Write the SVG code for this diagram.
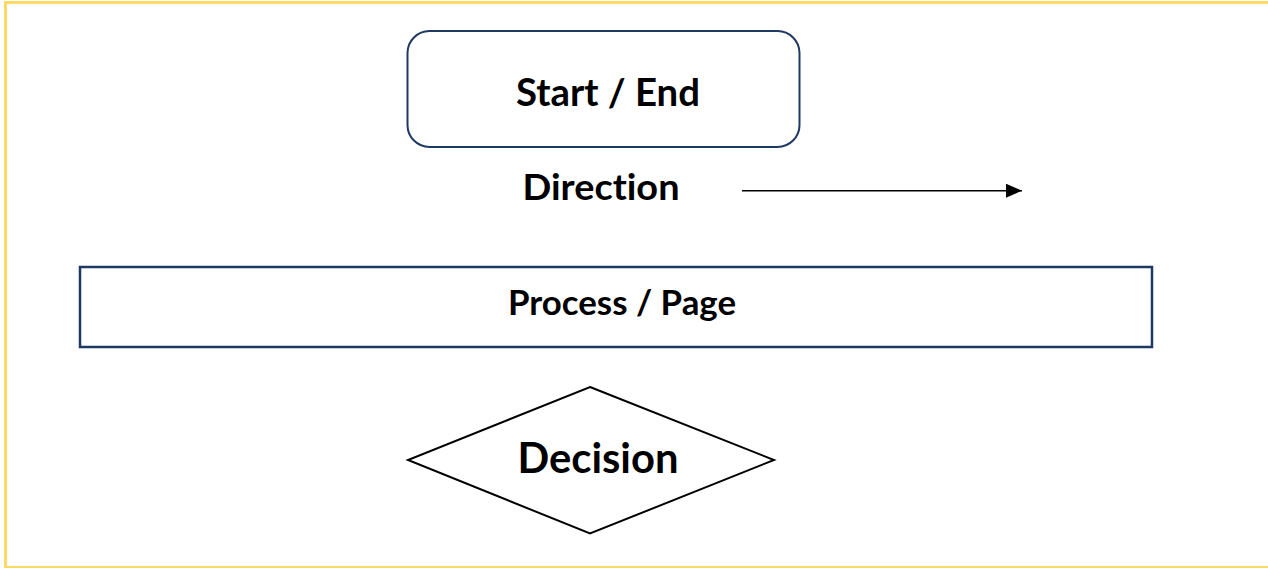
<svg xmlns="http://www.w3.org/2000/svg" width="1268" height="568" viewBox="0 0 1268 568">
  <style>
    .frame { fill: none; stroke: #FFD966; stroke-width: 3; }
    .navy { fill: #FFFFFF; stroke: #1F3864; }
    .label { font-family: Lato, "Liberation Sans", sans-serif; font-weight: bold; fill: #000000; text-anchor: middle; font-variant-ligatures: none; font-feature-settings: "liga" 0; }
    .conn { stroke: #000000; stroke-width: 1.4; fill: none; }
  </style>
  <defs>
    <marker id="arrowhead" markerWidth="16" markerHeight="14" refX="16" refY="7" orient="auto" markerUnits="userSpaceOnUse">
      <path d="M0,0 L16,7 L0,14 Z" fill="#000000"/>
    </marker>
  </defs>

  <rect x="0" y="0" width="1268" height="568" fill="#FFFFFF"/>
  <!-- outer frame -->
  <rect class="frame" x="5.5" y="2.5" width="1275" height="565"/>

  <g id="start-end">
    <rect class="navy" x="407.5" y="31" width="392" height="116" rx="22" ry="22" stroke-width="2"/>
    <text class="label" x="608" y="105.5" font-size="38" textLength="184" lengthAdjust="spacingAndGlyphs">Start / End</text>
  </g>

  <g id="direction">
    <text class="label" x="601" y="199.5" font-size="37" textLength="157" lengthAdjust="spacingAndGlyphs">Direction</text>
  </g>

  <g id="connectors">
    <line class="conn" x1="742" y1="190.7" x2="1022" y2="190.7" marker-end="url(#arrowhead)"/>
  </g>

  <g id="process-page">
    <rect class="navy" x="80" y="267" width="1072" height="80" stroke-width="2.5"/>
    <text class="label" x="622" y="315" font-size="34" textLength="228" lengthAdjust="spacingAndGlyphs">Process / Page</text>
  </g>

  <g id="decision">
    <polygon points="590,387 774,460 590,533.5 408,460" fill="#FFFFFF" stroke="#000000" stroke-width="2"/>
    <text class="label" x="598" y="473" font-size="42" textLength="161" lengthAdjust="spacingAndGlyphs">Decision</text>
  </g>
</svg>
